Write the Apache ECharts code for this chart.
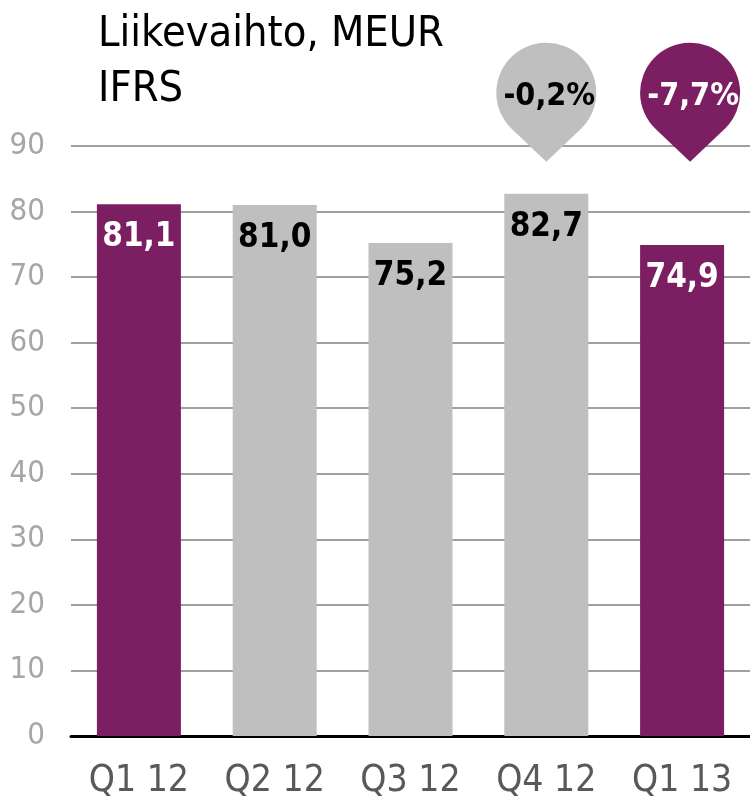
<!DOCTYPE html>
<html>
<head>
<meta charset="utf-8">
<script src="https://cdn.jsdelivr.net/npm/echarts@6/dist/echarts.min.js"></script>
<style>
  html, body { margin: 0; padding: 0; background: #fff; }
  #main { width: 750px; height: 804px; }
</style>
</head>
<body>
<div id="main"></div>
<script>
// data
var categories = ["Q1 12", "Q2 12", "Q3 12", "Q4 12", "Q1 13"];
var revenue = [81.1, 81.0, 75.2, 82.7, 74.9];
var changeLabels = ["-0,2%", "-7,7%"];
var changeCategories = ["Q4 12", "Q1 13"];
var yTicks = [0, 10, 20, 30, 40, 50, 60, 70, 80, 90];

// styles
var purple = "#7b1e62";
var grey = "#bfbfbf";
var barColors = [purple, grey, grey, grey, purple];
var pinColors = [grey, purple];
var pinText = ["#000", "#fff"];
var pinShift = [0, 8];
var font = "'DejaVu Sans Condensed', 'DejaVu Sans', sans-serif";
// round marker: circle r=50 with straight tangents to a tip 69px below its centre
var pinPath = "path://M50 119 L15.52 86.23 A50 50 0 1 1 84.48 86.23 Z";

var fmt = function (v) { return v.toFixed(1).replace(".", ","); };

var chart = echarts.init(document.getElementById("main"));
chart.setOption({
    animation: false,
    title: {
        text: "Liikevaihto, MEUR\nIFRS",
        left: 93,
        top: 2,
        textStyle: { fontFamily: font, fontSize: 43, fontWeight: "normal", color: "#000", lineHeight: 55 }
    },
    grid: { left: 71, right: 0, top: 146, bottom: 68 },
    xAxis: {
        type: "category",
        data: categories,
        axisTick: { show: false },
        axisLine: { lineStyle: { color: "#000", width: 3 } },
        axisLabel: { color: "#595959", fontFamily: font, fontSize: 37, margin: 27 }
    },
    yAxis: {
        type: "value",
        min: yTicks[0],
        max: yTicks[yTicks.length - 1],
        interval: 10,
        axisLine: { show: false },
        axisTick: { show: false },
        splitLine: { lineStyle: { color: "#a0a0a0", width: 2 } },
        axisLabel: { color: "#a6a6a6", fontFamily: font, fontSize: 31, margin: 26 }
    },
    series: [
        {
            type: "bar",
            barWidth: 84,
            data: revenue.map(function (v, i) {
                return {
                    value: v,
                    itemStyle: { color: barColors[i] },
                    label: { color: barColors[i] === purple ? "#fff" : "#000" }
                };
            }),
            label: {
                show: true,
                position: "insideTop",
                distance: 17,
                fontFamily: font,
                fontSize: 33,
                fontWeight: "bold",
                formatter: function (p) { return fmt(p.value); }
            },
            markPoint: {
                symbol: pinPath,
                symbolSize: [100, 119],
                data: changeLabels.map(function (t, i) {
                    return {
                        coord: [changeCategories[i], 87.6],
                        value: t,
                        symbolOffset: [pinShift[i], -59.5],
                        itemStyle: { color: pinColors[i] },
                        label: {
                            show: true,
                            formatter: t,
                            position: "inside",
                            offset: [3, -6],
                            color: pinText[i],
                            fontFamily: font,
                            fontSize: 32,
                            fontWeight: "bold"
                        }
                    };
                })
            }
        }
    ]
});
</script>
</body>
</html>
